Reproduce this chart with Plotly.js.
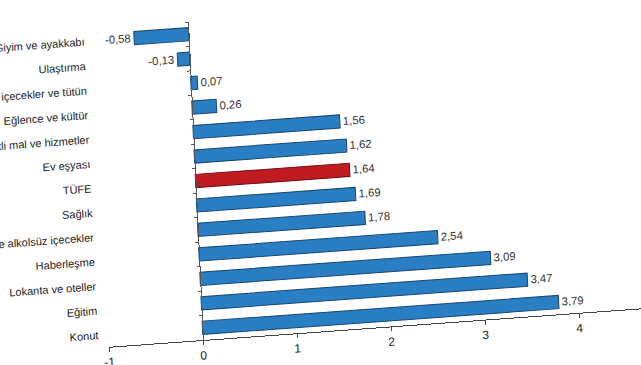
<!DOCTYPE html>
<html>
<head>
<meta charset="utf-8">
<script src="https://cdn.plot.ly/plotly-3.0.1.min.js"></script>
<style>
html,body{margin:0;padding:0;width:641px;height:365px;overflow:hidden;background:#fff;}
#chart{position:absolute;left:-191px;top:-8px;width:884px;height:388px;
transform-origin:394px 348px;transform:matrix(1,-0.0723,0.0472,1,0,0);}
</style>
</head>
<body>
<div id="chart"></div>
<script>
var categories = ["Giyim ve ayakkabı","Ulaştırma","Alkollü içecekler ve tütün","Eğlence ve kültür","Çeşitli mal ve hizmetler","Ev eşyası","TÜFE","Sağlık","Gıda ve alkolsüz içecekler","Haberleşme","Lokanta ve oteller","Eğitim","Konut"];
var values = [-0.58,-0.13,0.07,0.26,1.56,1.62,1.64,1.69,1.78,2.54,3.09,3.47,3.79];
var highlight = "TÜFE";
var tickVals = [-1,0,1,2,3,4];

var colors = categories.map(function(c){return c===highlight ? "#c01b20" : "#2a7fc4";});
var lineColors = categories.map(function(c){return c===highlight ? "#6e0c10" : "#17466e";});
var texts = values.map(function(v){return v.toFixed(2).replace(".",",");});

var font = "Liberation Sans, Arial, sans-serif";
var yRange = [categories.length - 0.5, -0.5];

var bars = {
  type:"bar", orientation:"h", x:values, y:categories,
  marker:{color:colors, line:{color:lineColors, width:1}},
  text:texts, textposition:"outside", cliponaxis:false,
  textfont:{family:font, size:12, color:"#333"},
  hoverinfo:"none"
};
var ghost = {
  type:"scatter", mode:"markers", x:values, y:categories, yaxis:"y2",
  marker:{opacity:0, size:1}, hoverinfo:"none", showlegend:false
};

var layout = {
  width:884, height:388,
  margin:{l:300, r:20, t:30, b:40},
  paper_bgcolor:"#fff", plot_bgcolor:"rgba(0,0,0,0)",
  showlegend:false, bargap:0.46,
  font:{family:font, size:12, color:"#222"},
  xaxis:{range:[-1,5], tickvals:tickVals, ticktext:tickVals.map(String),
    showgrid:false, zeroline:false, showline:true, linecolor:"#444", linewidth:1,
    ticks:"outside", ticklen:4, tickcolor:"#444",
    tickfont:{family:font, size:12, color:"#222"}, fixedrange:true},
  yaxis:{range:yRange, autorange:false, showgrid:false, zeroline:false, showline:false,
    ticks:"", ticklabelstandoff:9, tickfont:{family:font, size:11, color:"#222"}, automargin:false, fixedrange:true},
  yaxis2:{overlaying:"y", range:yRange, autorange:false, anchor:"free", position:1/6, side:"left",
    showgrid:false, zeroline:false, showline:true, linecolor:"#555", linewidth:1,
    ticks:"outside", ticklen:3, tickcolor:"#555", tickson:"boundaries",
    showticklabels:false, fixedrange:true}
};

Plotly.newPlot("chart", [bars, ghost], layout, {staticPlot:true, displayModeBar:false});
</script>
</body>
</html>
